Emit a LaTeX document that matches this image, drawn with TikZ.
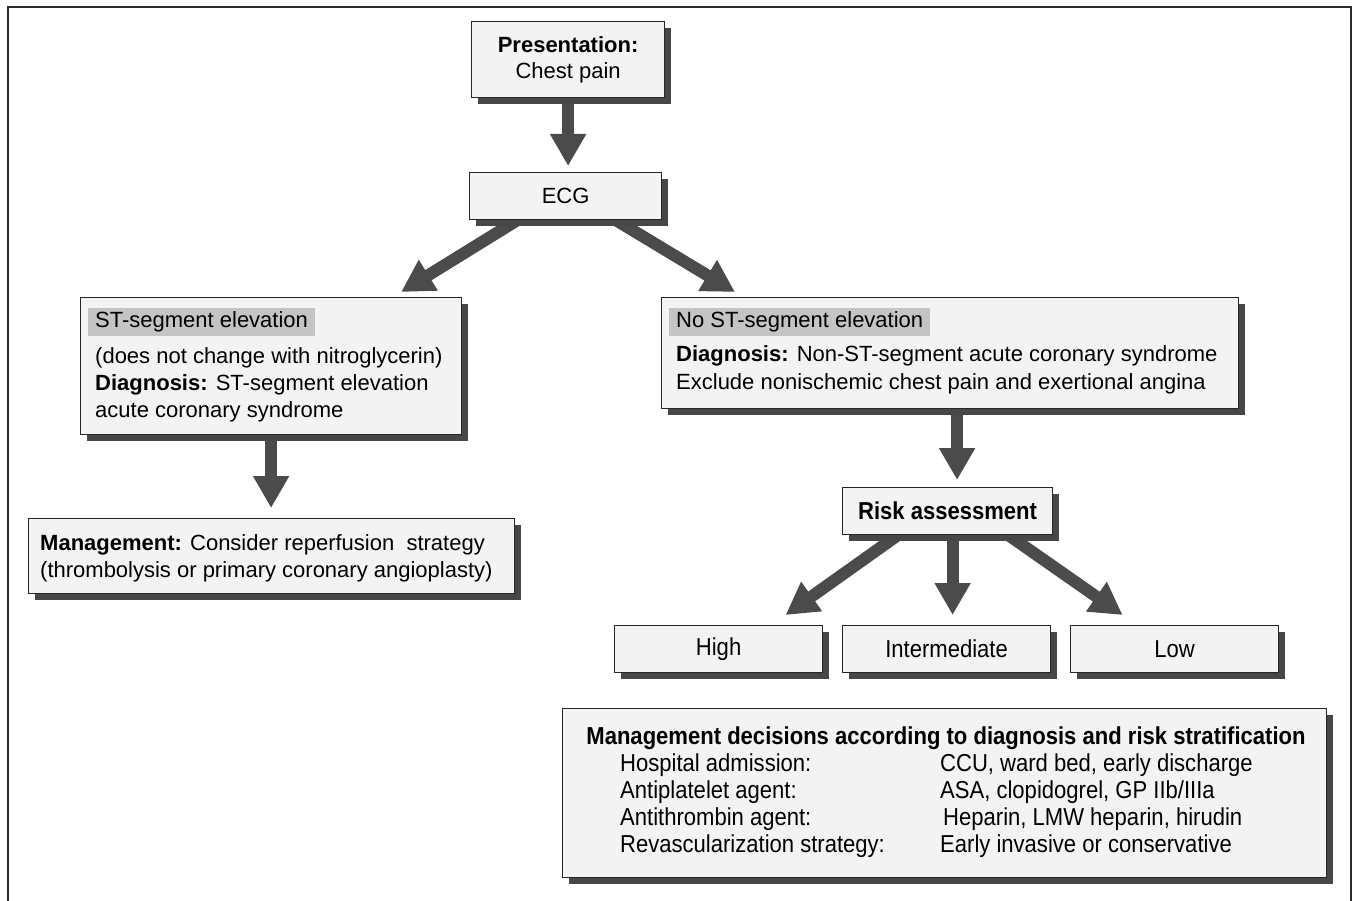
\documentclass[tikz,border=0pt]{standalone}
\usepackage{fontspec}
\setmainfont{Liberation Sans}
\newfontfamily\narrowfont[FakeStretch=0.9]{Liberation Sans}
\usetikzlibrary{arrows.meta,shadows,calc}
\pgfdeclarelayer{background}
\pgfsetlayers{background,main}
\definecolor{boxfill}{HTML}{F3F3F3}
\definecolor{shadowc}{HTML}{474747}
\definecolor{arrowc}{HTML}{4B4B4B}
\definecolor{hlc}{HTML}{C4C4C4}
\definecolor{framec}{HTML}{2B2B2B}
\begin{document}
\begin{tikzpicture}[x=1pt,y=-1pt,
  box/.style={draw=black!85, line width=1.2pt, fill=boxfill,
    drop shadow={shadow xshift=6pt,shadow yshift=-6pt,fill=shadowc,opacity=1},
    inner sep=0pt, anchor=north west, align=center,
    font=\fontsize{22}{26}\selectfont},
  nbox/.style={box, font=\narrowfont\fontsize{24.5}{27}\selectfont},
  bigarrow/.style={draw=arrowc, line width=12pt, -{Triangle[length=32pt,width=34pt]}},
  txt/.style={inner sep=0pt, anchor=base west, font=\fontsize{22}{27}\selectfont},
  ntxt/.style={inner sep=0pt, anchor=base west, font=\narrowfont\fontsize{24.5}{27}\selectfont},
  hl/.style={fill=hlc, inner ysep=0pt, inner xsep=7pt, minimum height=28pt, anchor=west,
    font=\fontsize{22}{27}\selectfont}]
\useasboundingbox (0,0) rectangle (1355,901);
% frame
\draw[framec, line width=1.6pt] (8,901) -- (8,7);
\draw[framec, line width=2.6pt] (7,7) -- (1351,7) -- (1351,901);

% boxes
\node[box, minimum width=193, minimum height=76] (pres) at (471,21) {\textbf{Presentation:}\\Chest pain};
\node[box, minimum width=192, minimum height=47] (ecg) at (469,172) {ECG};
\node[box, minimum width=381, minimum height=137] (stl) at (80,297) {};
\node[box, minimum width=577, minimum height=111] (str) at (661,297) {};
\node[box, minimum width=486, minimum height=75] (mgl) at (28,518) {};
\node[nbox, minimum width=210, minimum height=47] (risk) at (842,487) {\bfseries Risk assessment};
\node[nbox, minimum width=208, minimum height=47] (high) at (614,625) {High};
\node[nbox, minimum width=208, minimum height=47] (inter) at (842,625) {Intermediate};
\node[nbox, minimum width=208, minimum height=47] (low) at (1070,625) {Low};
\node[box, minimum width=764, minimum height=169] (dec) at (562,708) {};

% left ST box text
\node[hl] (stlh) at (88,322) {ST-segment elevation\strut};
\node[txt] (stl1) at (95,363) {(does not change with nitroglycerin)};
\node[txt] (stl2) at (95,390) {\textbf{Diagnosis:} ST-segment elevation};
\node[txt] (stl3) at (95,417) {acute coronary syndrome};

% right ST box text
\node[hl] (strh) at (669,322) {No ST-segment elevation\strut};
\node[txt] (str1) at (676,362) {\textbf{Diagnosis:} Non-ST-segment acute coronary syndrome};
\node[txt] (str2) at (676,389) {Exclude nonischemic chest pain and exertional angina};

% left management text
\node[txt] (mgl1) at (40,550) {\textbf{Management:} Consider reperfusion\ \ strategy};
\node[txt] (mgl2) at (40,577) {(thrombolysis or primary coronary angioplasty)};

% decisions text
\node[ntxt, anchor=base] (dect) at (946,744) {\bfseries Management decisions according to diagnosis and risk stratification};
\node[ntxt] (d1a) at (620,771) {Hospital admission:};
\node[ntxt] (d1b) at (940,771) {CCU, ward bed, early discharge};
\node[ntxt] (d2a) at (620,798) {Antiplatelet agent:};
\node[ntxt] (d2b) at (940,798) {ASA, clopidogrel, GP IIb/IIIa};
\node[ntxt] (d3a) at (620,825) {Antithrombin agent:};
\node[ntxt] (d3b) at (943,825) {Heparin, LMW heparin, hirudin};
\node[ntxt] (d4a) at (620,852) {Revascularization strategy:};
\node[ntxt] (d4b) at (940,852) {Early invasive or conservative};

% arrows
\begin{pgfonlayer}{background}
\draw[bigarrow] (pres.south) -- ($(pres.south |- ecg.north)+(0,-6)$);
\draw[bigarrow] ($(ecg.south)+(-45,-2)$) -- ($(stl.north)+(130,-5)$);
\draw[bigarrow] ($(ecg.south)+(47,-2)$) -- ($(str.north west)+(74,-5)$);
\draw[bigarrow] (stl.south) -- ($(stl.south |- mgl.north)+(0,-10)$);
\draw[bigarrow] ($(str.south)+(7,0)$) -- ($(str.south |- risk.north)+(7,-7)$);
\draw[bigarrow] ($(risk.south)+(-47,-2)$) -- ($(high.north)+(67,-10)$);
\draw[bigarrow] ($(risk.south)+(5,0)$) -- ($(inter.north)+(6,-10)$);
\draw[bigarrow] ($(risk.south)+(58,-2)$) -- ($(low.north)+(-52,-10)$);
\end{pgfonlayer}
\end{tikzpicture}
\end{document}
